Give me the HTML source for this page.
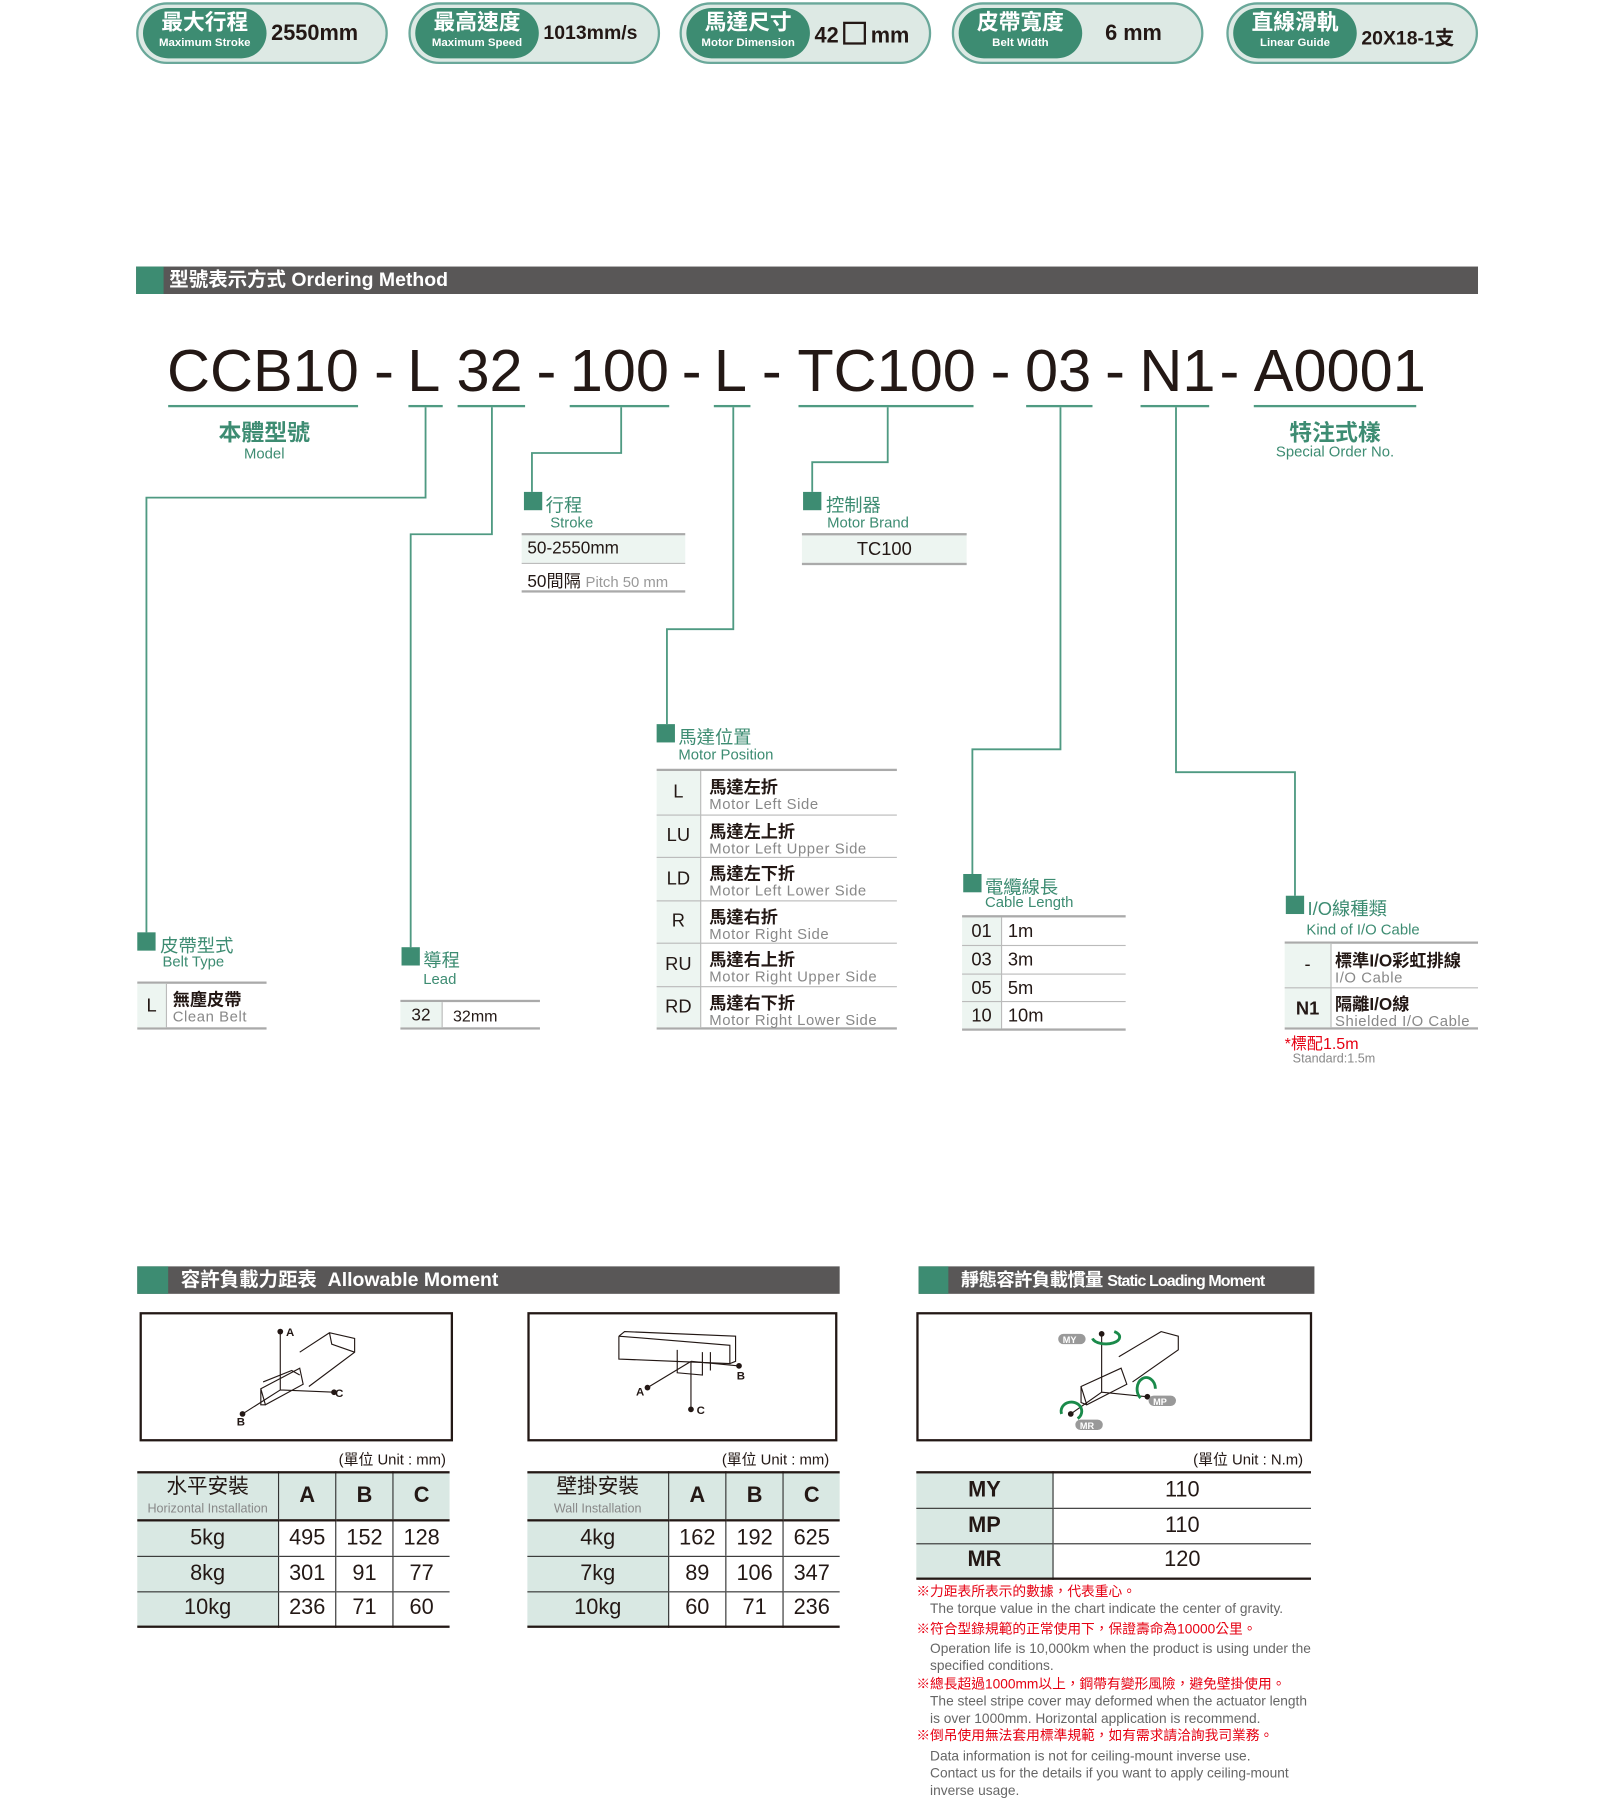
<!DOCTYPE html>
<html><head><meta charset="utf-8">
<style>
html,body{margin:0;padding:0;background:#fff;overflow:hidden}
body{width:1613px;height:1791px}
#w{position:absolute;left:0;top:0;width:1410px;height:1566px;transform:scale(1.14397);transform-origin:0 0;font-family:"Liberation Sans","Noto Sans CJK TC",sans-serif;color:#231815}
.a{position:absolute;white-space:nowrap}
.pill{position:absolute;top:2px;width:220px;height:54px;border:2px solid #6aa89a;border-radius:28px;background:#dde9e4;box-sizing:border-box}
.pin{position:absolute;left:4px;top:3px;width:108px;height:44px;border-radius:22px;background:#3d8c72;color:#fff;text-align:center}
.pin b{display:block;font-size:19px;line-height:22px;font-weight:bold;margin-top:3px}
.pin i{display:block;font-style:normal;font-size:10px;line-height:12px;font-weight:bold}
.pv{position:absolute;left:116px;top:15px;font-size:19px;font-weight:bold;color:#231815}
.bar{position:absolute;height:24px;background:#595757}
.bar .g{position:absolute;left:0;top:0;height:24px;background:#3d8c72}
.bar .t{position:absolute;top:1px;color:#fff;font-weight:bold;font-size:17px;line-height:22px;white-space:nowrap}
.code{position:absolute;top:294px;font-size:52px;line-height:62px;color:#231815}
.ul{position:absolute;top:354px;height:2px;background:#4f9a82}
.sq{position:absolute;width:16px;height:16px;background:#3d8c72}
.gt{position:absolute;color:#3d8c72;white-space:nowrap}
.tb{position:absolute;border-top:2px solid #aaa;border-bottom:2px solid #aaa;box-sizing:border-box}
.row{position:absolute;left:0;right:0;border-top:1px solid #bbb;box-sizing:border-box}
.c1{position:absolute;left:0;top:0;bottom:0;background:#edf5f1;border-right:1px solid #bbb;text-align:center}
.zh{font-size:15px;font-weight:bold;color:#231815}
.en{font-size:13px;color:#888;letter-spacing:.5px}
.box{position:absolute;top:1147px;height:113px;border:2px solid #231815;box-sizing:border-box}
.unit{position:absolute;top:1265px;font-size:13px}
table.t{position:absolute;border-collapse:collapse;font-size:19px}
table.t td{border-left:1px solid #333;text-align:center;padding:0;border-bottom:1px solid #333}
table.t td:first-child{border-left:none;background:#d9e8e3}
.note{position:absolute;left:801px;font-size:12px;line-height:15px;white-space:nowrap}
.r{color:#e60012}.gr{color:#666;padding-left:12px}
</style></head><body><div id="w">

<div class="pill" style="left:119px"><div class="pin"><b>最大行程</b><i>Maximum Stroke</i></div><div class="pv">2550mm</div></div>
<div class="pill" style="left:357px"><div class="pin"><b>最高速度</b><i>Maximum Speed</i></div><div class="pv" style="font-size:17px">1013mm/s</div></div>
<div class="pill" style="left:594px"><div class="pin"><b>馬達尺寸</b><i>Motor Dimension</i></div><div class="pv">42<span style="display:inline-block;width:16px;height:16px;border:2px solid #231815;vertical-align:-2px;margin:0 4px"></span>mm</div></div>
<div class="pill" style="left:832px"><div class="pin"><b>皮帶寬度</b><i>Belt Width</i></div><div class="pv" style="left:132px">6 mm</div></div>
<div class="pill" style="left:1072px"><div class="pin"><b>直線滑軌</b><i>Linear Guide</i></div><div class="pv" style="font-size:17px">20X18-1支</div></div>

<div class="bar" style="left:119px;top:233px;width:1173px"><div class="g" style="width:24px"></div><div class="t" style="left:29px">型號表示方式 Ordering Method</div></div>

<div class="code" style="left:146px">CCB10</div>
<div class="code" style="left:327px">-</div>
<div class="code" style="left:356px">L</div>
<div class="code" style="left:399px">32</div>
<div class="code" style="left:469px">-</div>
<div class="code" style="left:498px">100</div>
<div class="code" style="left:596px">-</div>
<div class="code" style="left:624px">L</div>
<div class="code" style="left:666px">-</div>
<div class="code" style="left:697px">TC100</div>
<div class="code" style="left:866px">-</div>
<div class="code" style="left:896px">03</div>
<div class="code" style="left:966px">-</div>
<div class="code" style="left:996px">N1</div>
<div class="code" style="left:1066px">-</div>
<div class="code" style="left:1096px">A0001</div>

<div class="ul" style="left:147px;width:166px"></div>
<div class="ul" style="left:357px;width:30px"></div>
<div class="ul" style="left:400px;width:59px"></div>
<div class="ul" style="left:498px;width:87px"></div>
<div class="ul" style="left:624px;width:32px"></div>
<div class="ul" style="left:698px;width:153px"></div>
<div class="ul" style="left:897px;width:58px"></div>
<div class="ul" style="left:997px;width:60px"></div>
<div class="ul" style="left:1096px;width:142px"></div>

<div class="gt" style="left:131px;width:200px;text-align:center;top:362px;font-size:20px;font-weight:bold">本體型號</div>
<div class="gt" style="left:131px;width:200px;text-align:center;top:389px;font-size:13px">Model</div>
<div class="gt" style="left:1067px;width:200px;text-align:center;top:362px;font-size:20px;font-weight:bold">特注式樣</div>
<div class="gt" style="left:1067px;width:200px;text-align:center;top:387px;font-size:13px">Special Order No.</div>

<svg class="a" style="left:0;top:0" width="1410" height="1000">
<g fill="none" stroke="#4f9a82" stroke-width="1.6">
<polyline points="372,356 372,435 128,435 128,815"/>
<polyline points="430,356 430,467 359,467 359,828"/>
<polyline points="543,356 543,396 465,396 465,430"/>
<polyline points="641,356 641,550 583,550 583,633"/>
<polyline points="776,356 776,404 710,404 710,430"/>
<polyline points="927,356 927,655 850,655 850,765"/>
<polyline points="1028,356 1028,675 1132,675 1132,783"/>
</g></svg>

<div class="sq" style="left:458px;top:430px"></div>
<div class="gt" style="left:477px;top:428px;font-size:16px">行程</div>
<div class="gt" style="left:481px;top:449px;font-size:13px">Stroke</div>
<div class="tb" style="left:456px;top:466px;width:143px;height:52px">
 <div class="row" style="top:0;height:24px;border:none;background:#edf5f1"><span class="a" style="left:5px;top:3px;font-size:15px">50-2550mm</span></div>
 <div class="row" style="top:24px;height:26px"><span class="a" style="left:5px;top:4px;font-size:15px">50間隔 <span style="color:#999;font-size:13px">Pitch 50 mm</span></span></div>
</div>

<div class="sq" style="left:702px;top:430px"></div>
<div class="gt" style="left:722px;top:428px;font-size:16px">控制器</div>
<div class="gt" style="left:723px;top:449px;font-size:13px">Motor Brand</div>
<div class="tb" style="left:701px;top:466px;width:144px;height:28px;background:#edf5f1"><span class="a" style="left:0;width:144px;text-align:center;top:4px;font-size:16px">TC100</span></div>

<div class="sq" style="left:574px;top:633px"></div>
<div class="gt" style="left:593px;top:631px;font-size:16px">馬達位置</div>
<div class="gt" style="left:593px;top:652px;font-size:13px">Motor Position</div>
<div class="tb" style="left:574px;top:672px;width:210px;height:228px">
 <div class="c1" style="width:38px"></div>
 <div class="row" style="top:0;height:38px;border:none"><span class="a" style="left:0;width:38px;text-align:center;top:10px;font-size:16px">L</span><span class="a zh" style="left:46px;top:3px">馬達左折</span><span class="a en" style="left:46px;top:21px">Motor Left Side</span></div>
 <div class="row" style="top:38px;height:37px"><span class="a" style="left:0;width:38px;text-align:center;top:9px;font-size:16px">LU</span><span class="a zh" style="left:46px;top:3px">馬達左上折</span><span class="a en" style="left:46px;top:21px">Motor Left Upper Side</span></div>
 <div class="row" style="top:75px;height:38px"><span class="a" style="left:0;width:38px;text-align:center;top:10px;font-size:16px">LD</span><span class="a zh" style="left:46px;top:3px">馬達左下折</span><span class="a en" style="left:46px;top:21px">Motor Left Lower Side</span></div>
 <div class="row" style="top:113px;height:37px"><span class="a" style="left:0;width:38px;text-align:center;top:9px;font-size:16px">R</span><span class="a zh" style="left:46px;top:3px">馬達右折</span><span class="a en" style="left:46px;top:21px">Motor Right Side</span></div>
 <div class="row" style="top:150px;height:38px"><span class="a" style="left:0;width:38px;text-align:center;top:10px;font-size:16px">RU</span><span class="a zh" style="left:46px;top:3px">馬達右上折</span><span class="a en" style="left:46px;top:21px">Motor Right Upper Side</span></div>
 <div class="row" style="top:188px;height:38px"><span class="a" style="left:0;width:38px;text-align:center;top:9px;font-size:16px">RD</span><span class="a zh" style="left:46px;top:3px">馬達右下折</span><span class="a en" style="left:46px;top:21px">Motor Right Lower Side</span></div>
</div>

<div class="sq" style="left:842px;top:764px"></div>
<div class="gt" style="left:861px;top:762px;font-size:16px">電纜線長</div>
<div class="gt" style="left:861px;top:781px;font-size:13px">Cable Length</div>
<div class="tb" style="left:841px;top:800px;width:143px;height:101px">
 <div class="c1" style="width:34px"></div>
 <div class="row" style="top:0;height:24px;border:none"><span class="a" style="left:0;width:34px;text-align:center;top:4px;font-size:16px">01</span><span class="a" style="left:40px;top:4px;font-size:16px">1m</span></div>
 <div class="row" style="top:24px;height:25px"><span class="a" style="left:0;width:34px;text-align:center;top:4px;font-size:16px">03</span><span class="a" style="left:40px;top:4px;font-size:16px">3m</span></div>
 <div class="row" style="top:49px;height:24px"><span class="a" style="left:0;width:34px;text-align:center;top:4px;font-size:16px">05</span><span class="a" style="left:40px;top:4px;font-size:16px">5m</span></div>
 <div class="row" style="top:73px;height:25px"><span class="a" style="left:0;width:34px;text-align:center;top:4px;font-size:16px">10</span><span class="a" style="left:40px;top:4px;font-size:16px">10m</span></div>
</div>

<div class="sq" style="left:1124px;top:783px"></div>
<div class="gt" style="left:1143px;top:781px;font-size:16px">I/O線種類</div>
<div class="gt" style="left:1142px;top:805px;font-size:13px">Kind of I/O Cable</div>
<div class="tb" style="left:1123px;top:823px;width:169px;height:77px">
 <div class="c1" style="width:40px"></div>
 <div class="row" style="top:0;height:38px;border:none"><span class="a" style="left:0;width:40px;text-align:center;top:10px;font-size:16px">-</span><span class="a zh" style="left:44px;top:4px">標準I/O彩虹排線</span><span class="a en" style="left:44px;top:22px">I/O Cable</span></div>
 <div class="row" style="top:38px;height:37px"><span class="a" style="left:0;width:40px;text-align:center;top:10px;font-size:16px;font-weight:bold">N1</span><span class="a zh" style="left:44px;top:3px">隔離I/O線</span><span class="a en" style="left:44px;top:21px">Shielded I/O Cable</span></div>
</div>
<div class="a" style="left:1123px;top:902px;font-size:14px;color:#e60012">*標配1.5m</div>
<div class="a" style="left:1130px;top:920px;font-size:11px;color:#888">Standard:1.5m</div>

<div class="sq" style="left:120px;top:815px"></div>
<div class="gt" style="left:140px;top:813px;font-size:16px">皮帶型式</div>
<div class="gt" style="left:142px;top:833px;font-size:13px">Belt Type</div>
<div class="tb" style="left:120px;top:858px;width:113px;height:42px">
 <div class="c1" style="width:25px"></div>
 <span class="a" style="left:0;width:25px;text-align:center;top:11px;font-size:16px">L</span>
 <span class="a zh" style="left:31px;top:3px">無塵皮帶</span><span class="a en" style="left:31px;top:21px">Clean Belt</span>
</div>

<div class="sq" style="left:351px;top:828px"></div>
<div class="gt" style="left:370px;top:826px;font-size:16px">導程</div>
<div class="gt" style="left:370px;top:848px;font-size:13px">Lead</div>
<div class="tb" style="left:350px;top:874px;width:122px;height:26px">
 <div class="c1" style="width:36px"></div>
 <span class="a" style="left:0;width:36px;text-align:center;top:3px;font-size:15px">32</span>
 <span class="a" style="left:46px;top:4px;font-size:14px">32mm</span>
</div>

<div class="bar" style="left:120px;top:1107px;width:614px"><div class="g" style="width:27px"></div><div class="t" style="left:38px">容許負載力距表&nbsp; Allowable Moment</div></div>
<div class="bar" style="left:803px;top:1107px;width:346px"><div class="g" style="width:26px"></div><div class="t" style="left:37px;font-size:16px;letter-spacing:-0.5px">靜態容許負載慣量 <span style="font-size:14px;letter-spacing:-0.8px">Static Loading Moment</span></div></div>

<div class="box" style="left:122px;width:274px"></div>
<div class="box" style="left:461px;width:271px"></div>
<div class="box" style="left:801px;width:346px"></div>

<svg class="a" style="left:0;top:1140px" width="1410" height="130">
<g fill="none" stroke="#231815" stroke-width="1">
 <path d="M245,24 V75 M245,75 L292,77 M245,75 L212,96"/>
 <path d="M262,42 L288,25 L310,30 L310,42 L270,72 M288,25 L290,35 L310,42 M228,74 L262,56 L265,70 L232,88 Z M228,74 L228,88 L232,88 M230,68 L255,58 L262,62"/>
 <path d="M541,28 L541,48 L638,52 L638,36 L541,28 M541,28 L546,24 L643,28 L643,50 L638,52 M592,40 L592,60 L614,62 L614,42 M621,42 L621,58"/>
 <path d="M604,50 V92 M604,50 L566,73 M604,50 L646,54"/>
 <path d="M963,26 V77 M963,77 L1003,81 M963,77 L936,96"/>
 <path d="M978,46 L1015,24 L1030,28 L1030,40 L990,68 M945,72 L980,56 L985,70 L950,88 Z M945,72 L945,86 L950,88"/>
</g>
<g fill="#231815" font-size="10" font-weight="bold" font-family="Liberation Sans,sans-serif">
 <circle cx="245" cy="24" r="2.5"/><text x="250" y="28">A</text>
 <circle cx="292" cy="77" r="2.5"/><text x="293" y="81">C</text>
 <circle cx="212" cy="96" r="2.5"/><text x="207" y="106">B</text>
 <circle cx="646" cy="54" r="2.5"/><text x="644" y="66">B</text>
 <circle cx="566" cy="73" r="2.5"/><text x="556" y="80">A</text>
 <circle cx="604" cy="92" r="2.5"/><text x="609" y="96">C</text>
 <circle cx="963" cy="26" r="2.5"/><circle cx="1003" cy="81" r="2.5"/><circle cx="936" cy="96" r="2.5"/>
</g>
<g fill="none" stroke="#1a8a4a" stroke-width="2.5">
 <path d="M955,30 A12,6 0 1 0 974,24"/><path d="M997,82 A8,10 0 1 1 1010,74"/><path d="M928,96 A9,8 0 1 1 942,100"/>
</g>
<g fill="#999"><rect x="925" y="26" width="24" height="9" rx="4.5"/><rect x="1004" y="80" width="24" height="9" rx="4.5"/><rect x="940" y="101" width="24" height="9" rx="4.5"/></g>
<g fill="#fff" font-size="8" font-weight="bold" font-family="Liberation Sans,sans-serif"><text x="929" y="34">MY</text><text x="1008" y="88">MP</text><text x="944" y="109">MR</text></g>
</svg>

<div class="unit" style="left:296px">(單位 Unit : mm)</div>
<div class="unit" style="left:631px">(單位 Unit : mm)</div>
<div class="unit" style="left:1043px">(單位 Unit : N.m)</div>

<table class="t" style="left:120px;top:1286px;width:273px;border-top:2px solid #231815;border-bottom:2px solid #231815">
<tr style="height:39px"><td style="width:123px;line-height:17px;border-bottom:2px solid #231815;padding-top:3px"><span style="font-size:18px">水平安裝</span><br><span style="font-size:11px;color:#888">Horizontal Installation</span></td><td style="background:#d9e8e3;font-weight:bold;border-bottom:2px solid #231815">A</td><td style="background:#d9e8e3;font-weight:bold;border-bottom:2px solid #231815">B</td><td style="background:#d9e8e3;font-weight:bold;border-bottom:2px solid #231815">C</td></tr>
<tr style="height:31px"><td>5kg</td><td>495</td><td>152</td><td>128</td></tr>
<tr style="height:31px"><td>8kg</td><td>301</td><td>91</td><td>77</td></tr>
<tr style="height:31px"><td>10kg</td><td>236</td><td>71</td><td>60</td></tr>
</table>
<table class="t" style="left:461px;top:1286px;width:273px;border-top:2px solid #231815;border-bottom:2px solid #231815">
<tr style="height:39px"><td style="width:123px;line-height:17px;border-bottom:2px solid #231815;padding-top:3px"><span style="font-size:18px">壁掛安裝</span><br><span style="font-size:11px;color:#888">Wall Installation</span></td><td style="background:#d9e8e3;font-weight:bold;border-bottom:2px solid #231815">A</td><td style="background:#d9e8e3;font-weight:bold;border-bottom:2px solid #231815">B</td><td style="background:#d9e8e3;font-weight:bold;border-bottom:2px solid #231815">C</td></tr>
<tr style="height:31px"><td>4kg</td><td>162</td><td>192</td><td>625</td></tr>
<tr style="height:31px"><td>7kg</td><td>89</td><td>106</td><td>347</td></tr>
<tr style="height:31px"><td>10kg</td><td>60</td><td>71</td><td>236</td></tr>
</table>
<table class="t" style="left:801px;top:1286px;width:345px;border-top:2px solid #231815;border-bottom:2px solid #231815">
<tr style="height:31px"><td style="width:119px;font-weight:bold">MY</td><td>110</td></tr>
<tr style="height:31px"><td style="font-weight:bold">MP</td><td>110</td></tr>
<tr style="height:31px"><td style="font-weight:bold">MR</td><td>120</td></tr>
</table>

<div class="note" style="top:1384px"><div class="r">※力距表所表示的數據，代表重心。</div><div class="gr">The torque value in the chart indicate the center of gravity.</div>
<div class="r" style="margin-top:3px">※符合型錄規範的正常使用下，保證壽命為10000公里。</div><div class="gr" style="margin-top:2px">Operation life is 10,000km when the product is using under the<br>specified conditions.</div>
<div class="r" style="margin-top:1px">※總長超過1000mm以上，鋼帶有變形風險，避免壁掛使用。</div><div class="gr">The steel stripe cover may deformed when the actuator length<br>is over 1000mm. Horizontal application is recommend.</div>
<div class="r">※倒吊使用無法套用標準規範，如有需求請洽詢我司業務。</div><div class="gr" style="margin-top:3px">Data information is not for ceiling-mount inverse use.<br>Contact us for the details if you want to apply ceiling-mount<br>inverse usage.</div></div>

</div></body></html>
